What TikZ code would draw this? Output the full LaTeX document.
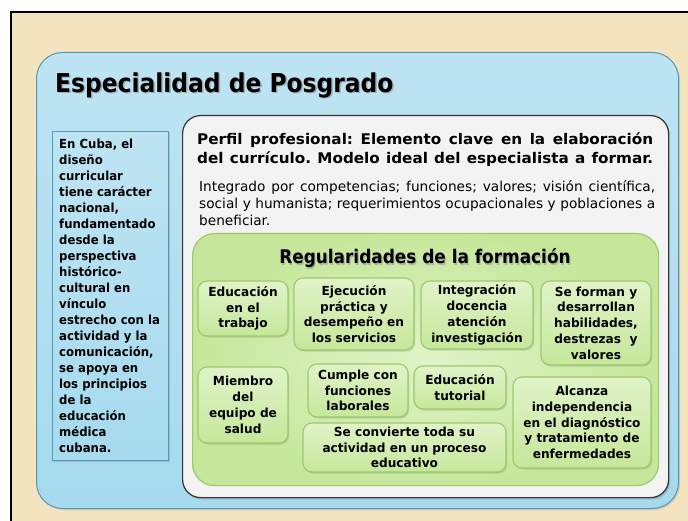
\documentclass[tikz,border=0pt]{standalone}
\usepackage{fontspec}
\setmainfont{DejaVu Sans Condensed}
\newfontfamily\wideA[FakeStretch=1.08]{DejaVu Sans Condensed}
\newfontfamily\wideB[FakeStretch=1.04]{DejaVu Sans Condensed}
\newfontfamily\wideP[FakeStretch=1.15]{DejaVu Sans Condensed}
\newfontfamily\wideC[FakeStretch=1.11]{DejaVu Sans Condensed}
\usetikzlibrary{shadows}
\definecolor{beige}{HTML}{F3E4BF}
\definecolor{bluefill}{HTML}{A6DAEE}
\definecolor{bluelight}{HTML}{BEE4F3}
\definecolor{blueline}{HTML}{4F9BB5}
\definecolor{whitefill}{HTML}{F3F3F3}
\definecolor{greenfill}{HTML}{C6E79B}
\definecolor{greenlight}{HTML}{E0F3C8}
\definecolor{greenline}{HTML}{9DC96B}
\tikzset{
  gbox/.style={draw=greenline, line width=1.1pt, rounded corners=9pt, inner sep=1pt, align=center,
    font=\wideA\fontsize{12.5}{15.8}\selectfont\bfseries, top color=greenlight, bottom color=greenfill,
    drop shadow={shadow xshift=1.2pt, shadow yshift=-1.5pt, opacity=0.3}},
  panel/.style={inner sep=0pt, anchor=north west},
  txt/.style={inner sep=0pt, anchor=base west, align=left},
}
\begin{document}
\frenchspacing
\begin{tikzpicture}[x=1pt,y=-1pt]
\useasboundingbox (0,0) rectangle (688,521);
% background frame
\fill[white] (0,0) rectangle (688,521);
\fill[beige] (11,12) rectangle (688,521);
\draw[line width=1.6pt] (688,12) -- (11,12) -- (11,521);
% blue panel
\node[panel, draw=blueline, line width=1pt, rounded corners=26pt, top color=bluelight, bottom color=bluefill,
  minimum width=642pt, minimum height=456pt,
  drop shadow={shadow xshift=1.5pt, shadow yshift=-1.5pt, opacity=0.25}] (blue) at (36,52) {};
\node[txt, text=black!45, opacity=0.6, font=\fontsize{26}{30}\selectfont\bfseries] (titlesh) at (56.5,93.8) {Especialidad de Posgrado};
\node[txt, font=\fontsize{26}{30}\selectfont\bfseries] (title) at (55,92.3) {Especialidad de Posgrado};
% left box
\node[panel, draw=blueline, line width=1pt, top color=bluelight, bottom color=bluefill,
  minimum width=116pt, minimum height=329pt,
  drop shadow={shadow xshift=1.5pt, shadow yshift=-1.5pt, opacity=0.35}] (left) at (52,131) {};
\node[txt] (lefttext) at (59,148.3) {\parbox[t]{108pt}{\wideB\fontsize{12.5}{16}\selectfont\bfseries
En Cuba, el\\ diseño\\ curricular\\ tiene carácter\\ nacional,\\ fundamentado\\ desde la\\ perspectiva\\ histórico-\\ cultural en\\ vínculo\\ estrecho con la\\ actividad y la\\ comunicación,\\ se apoya en\\ los principios\\ de la\\ educación\\ médica\\ cubana.}};
% white panel
\node[panel, draw=black!80, line width=1.2pt, rounded corners=18pt, fill=whitefill,
  minimum width=486pt, minimum height=382pt,
  drop shadow={shadow xshift=1.5pt, shadow yshift=-2pt, opacity=0.4}] (white) at (182,115) {};
\node[txt] (perfil) at (197,144.5) {\parbox[t]{456pt}{\wideP\fontsize{14.7}{19}\selectfont\bfseries
\makebox[456pt][s]{Perfil profesional: Elemento clave en la elaboración}\\
\makebox[456pt][s]{del currículo. Modelo ideal del especialista a formar.}}};
\node[txt] (integ) at (199,191.7) {\parbox[t]{456pt}{\wideC\fontsize{13.7}{17}\selectfont
\makebox[456pt][s]{Integrado por competencias; funciones; valores; visión científica,}\\
\makebox[456pt][s]{social y humanista; requerimientos ocupacionales y poblaciones a}\\
beneficiar.}};
% green panel
\node[panel, draw=greenline, line width=1.2pt, rounded corners=22pt, inner color=greenlight, outer color=greenfill,
  minimum width=466pt, minimum height=252pt] (green) at (192,233) {};
\node[inner sep=0pt, anchor=base, text=black!40, opacity=0.6, font=\fontsize{18.8}{22}\selectfont\bfseries] (regsh) at (426.2,265.2) {Regularidades de la formación};
\node[inner sep=0pt, anchor=base, font=\fontsize{18.8}{22}\selectfont\bfseries] (reg) at (425,264) {Regularidades de la formación};
% small boxes
\node[gbox, minimum width=90pt, minimum height=55pt] (b1) at (243,308.5) {Educación\\en el\\trabajo};
\node[gbox, minimum width=120pt, minimum height=72pt] (b2) at (354,314) {Ejecución\\práctica y\\desempeño en\\los servicios};
\node[gbox, minimum width=112pt, minimum height=68pt] (b3) at (477,315) {Integración\\docencia\\atención\\investigación};
\node[gbox, minimum width=110pt, minimum height=84pt] (b4) at (596,323) {Se forman y\\desarrollan\\habilidades,\\destrezas \ y\\valores};
\node[gbox, minimum width=90pt, minimum height=76pt] (b5) at (243,405) {Miembro\\del\\equipo de\\salud};
\node[gbox, minimum width=100pt, minimum height=53pt] (b6) at (358,390.5) {Cumple con\\funciones\\laborales};
\node[gbox, minimum width=92pt, minimum height=43pt] (b7) at (460,387.5) {Educación\\tutorial};
\node[gbox, minimum width=203pt, minimum height=49pt] (b8) at (404.5,447.5) {Se convierte toda su\\actividad en un proceso\\educativo};
\node[gbox, minimum width=138pt, minimum height=91pt] (b9) at (582,422.5) {Alcanza\\independencia\\en el diagnóstico\\y tratamiento de\\enfermedades};
\end{tikzpicture}
\end{document}
